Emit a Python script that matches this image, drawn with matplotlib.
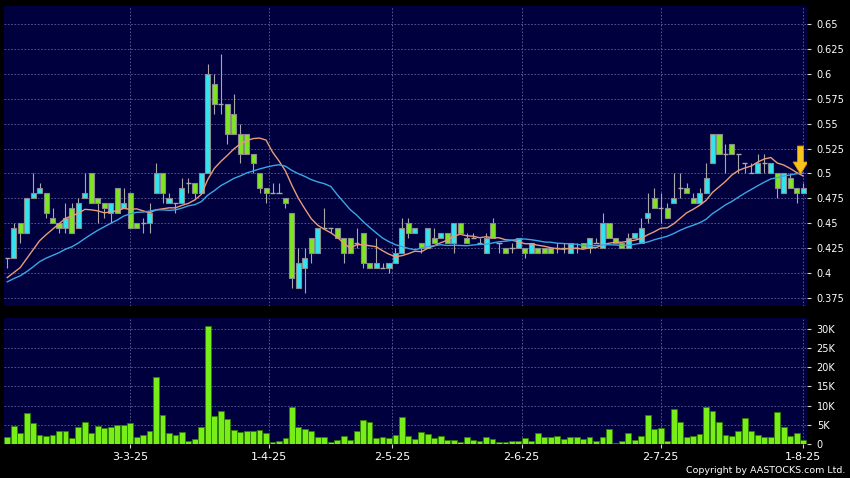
import numpy as np
import pandas as pd
import matplotlib
matplotlib.use('Agg')
from matplotlib import pyplot as plt

# daily bars, oldest first (Feb - Aug 2025)
opens = [0.415, 0.415, 0.45, 0.44, 0.475, 0.48, 0.48, 0.455, 0.45, 0.445,
         0.465, 0.445, 0.475, 0.50, 0.475, 0.47, 0.46, 0.485, 0.465, 0.48,
         0.45, 0.45, 0.45, 0.48, 0.50, 0.47, 0.47, 0.47, 0.49, 0.49,
         0.48, 0.50, 0.59, 0.57, 0.57, 0.56, 0.54, 0.54, 0.52, 0.50,
         0.485, 0.48, 0.48, 0.475, 0.46, 0.385, 0.405, 0.435, 0.42, 0.445,
         0.445, 0.445, 0.435, 0.435, 0.43, 0.44, 0.41, 0.405, 0.405, 0.405,
         0.41, 0.42, 0.45, 0.44, 0.43, 0.425, 0.435, 0.435, 0.44, 0.43,
         0.45, 0.435, 0.435, 0.43, 0.42, 0.45, 0.43, 0.425, 0.425, 0.425,
         0.425, 0.42, 0.425, 0.425, 0.425, 0.425, 0.425, 0.42, 0.425, 0.43,
         0.425, 0.43, 0.425, 0.45, 0.435, 0.43, 0.425, 0.435, 0.43, 0.455,
         0.475, 0.465, 0.465, 0.47, 0.485, 0.485, 0.475, 0.47, 0.48, 0.51,
         0.54, 0.52, 0.53, 0.52, 0.51, 0.50, 0.50, 0.51, 0.50, 0.50,
         0.48, 0.495, 0.485, 0.48]
highs = [0.415, 0.45, 0.45, 0.475, 0.50, 0.49, 0.48, 0.465, 0.45, 0.47,
         0.47, 0.475, 0.50, 0.50, 0.475, 0.47, 0.47, 0.485, 0.485, 0.48,
         0.45, 0.455, 0.47, 0.51, 0.50, 0.48, 0.47, 0.495, 0.495, 0.49,
         0.50, 0.61, 0.60, 0.62, 0.57, 0.58, 0.55, 0.54, 0.52, 0.50,
         0.485, 0.49, 0.49, 0.475, 0.46, 0.425, 0.425, 0.435, 0.445, 0.465,
         0.445, 0.445, 0.435, 0.435, 0.445, 0.44, 0.41, 0.435, 0.41, 0.41,
         0.425, 0.455, 0.455, 0.445, 0.43, 0.445, 0.445, 0.44, 0.44, 0.45,
         0.45, 0.44, 0.44, 0.435, 0.44, 0.455, 0.43, 0.425, 0.43, 0.435,
         0.425, 0.43, 0.425, 0.425, 0.425, 0.43, 0.43, 0.43, 0.43, 0.43,
         0.435, 0.435, 0.46, 0.45, 0.435, 0.43, 0.44, 0.44, 0.455, 0.48,
         0.485, 0.48, 0.47, 0.50, 0.50, 0.49, 0.48, 0.485, 0.51, 0.54,
         0.54, 0.53, 0.53, 0.52, 0.51, 0.51, 0.52, 0.52, 0.51, 0.50,
         0.50, 0.50, 0.485, 0.49]
lows = [0.405, 0.415, 0.43, 0.44, 0.475, 0.48, 0.455, 0.45, 0.44, 0.44,
        0.44, 0.445, 0.475, 0.47, 0.45, 0.455, 0.45, 0.46, 0.465, 0.445,
        0.445, 0.44, 0.44, 0.48, 0.47, 0.47, 0.46, 0.47, 0.48, 0.475,
        0.48, 0.50, 0.56, 0.56, 0.53, 0.54, 0.51, 0.52, 0.50, 0.48,
        0.47, 0.48, 0.48, 0.465, 0.385, 0.385, 0.38, 0.41, 0.42, 0.445,
        0.44, 0.435, 0.41, 0.42, 0.425, 0.405, 0.405, 0.405, 0.405, 0.40,
        0.41, 0.42, 0.435, 0.44, 0.42, 0.425, 0.43, 0.435, 0.43, 0.42,
        0.44, 0.43, 0.435, 0.43, 0.42, 0.435, 0.42, 0.42, 0.42, 0.425,
        0.415, 0.42, 0.42, 0.42, 0.42, 0.42, 0.42, 0.42, 0.42, 0.425,
        0.42, 0.43, 0.425, 0.435, 0.43, 0.425, 0.425, 0.435, 0.43, 0.45,
        0.465, 0.45, 0.455, 0.47, 0.475, 0.48, 0.47, 0.47, 0.48, 0.51,
        0.52, 0.50, 0.52, 0.50, 0.50, 0.50, 0.50, 0.50, 0.50, 0.475,
        0.48, 0.485, 0.47, 0.48]
closes = [0.415, 0.445, 0.44, 0.475, 0.48, 0.485, 0.46, 0.45, 0.445, 0.455,
          0.44, 0.47, 0.48, 0.47, 0.47, 0.465, 0.47, 0.46, 0.47, 0.445,
          0.445, 0.45, 0.46, 0.50, 0.48, 0.475, 0.47, 0.485, 0.49, 0.48,
          0.50, 0.60, 0.57, 0.57, 0.54, 0.54, 0.52, 0.52, 0.51, 0.485,
          0.48, 0.48, 0.48, 0.47, 0.395, 0.41, 0.415, 0.42, 0.445, 0.445,
          0.445, 0.435, 0.42, 0.42, 0.43, 0.41, 0.405, 0.41, 0.405, 0.41,
          0.42, 0.445, 0.44, 0.445, 0.425, 0.445, 0.43, 0.44, 0.43, 0.45,
          0.44, 0.43, 0.435, 0.43, 0.435, 0.435, 0.43, 0.42, 0.425, 0.435,
          0.42, 0.43, 0.42, 0.42, 0.42, 0.425, 0.425, 0.43, 0.425, 0.425,
          0.435, 0.43, 0.45, 0.435, 0.43, 0.425, 0.435, 0.44, 0.445, 0.46,
          0.465, 0.465, 0.455, 0.475, 0.485, 0.48, 0.47, 0.48, 0.495, 0.54,
          0.52, 0.52, 0.52, 0.52, 0.51, 0.50, 0.51, 0.51, 0.51, 0.485,
          0.50, 0.485, 0.48, 0.485]
# volume in thousands of shares
volumes = [1.9, 4.6, 2.95, 8.0, 5.6, 2.4, 2.0, 2.3, 3.3, 3.5,
           1.65, 4.3, 5.8, 2.95, 4.7, 4.2, 4.3, 4.9, 4.9, 5.6,
           1.9, 2.3, 3.3, 17.4, 7.6, 2.8, 2.4, 3.2, 0.9, 1.2,
           4.3, 30.8, 7.4, 8.7, 6.5, 3.7, 3.2, 3.4, 3.4, 3.6,
           2.8, 0.6, 0.8, 1.6, 9.7, 4.3, 4.0, 3.5, 1.7, 1.8,
           0.5, 1.0, 2.2, 1.1, 3.4, 6.2, 5.8, 1.6, 1.9, 1.6,
           2.3, 7.1, 2.0, 1.3, 3.2, 2.6, 1.65, 2.0, 1.0, 1.0,
           0.6, 1.9, 1.0, 0.8, 1.9, 1.4, 0.6, 0.6, 0.9, 0.9,
           1.65, 0.9, 2.9, 1.9, 1.7, 2.2, 1.3, 1.9, 1.7, 1.4,
           1.8, 0.7, 1.9, 3.9, 0.3, 0.8, 2.9, 1.1, 2.0, 7.6,
           4.0, 4.2, 0.8, 9.0, 5.8, 1.7, 2.2, 2.6, 9.7, 8.5,
           5.7, 2.3, 2.0, 3.4, 6.9, 3.5, 2.4, 1.9, 1.7, 8.4,
           4.3, 2.0, 2.8, 1.1]
# closes before the window, only used to warm up the moving averages
lead_closes = [0.38, 0.385, 0.39, 0.385, 0.38, 0.39, 0.395, 0.39, 0.385, 0.39,
               0.395, 0.39, 0.385, 0.39, 0.395, 0.40, 0.395, 0.39, 0.40]

tick_pos = [19, 40.5, 59.5, 79.5, 101, 123]
tick_labels = ['3-3-25', '1-4-25', '2-5-25', '2-6-25', '2-7-25', '1-8-25']
price_ticks = [0.375, 0.4, 0.425, 0.45, 0.475, 0.5, 0.525, 0.55, 0.575, 0.6, 0.625, 0.65]
vol_ticks = [0, 5, 10, 15, 20, 25, 30]

BG = '#00003e'
GRID = '#60609a'
CYAN = '#30e4f2'
GREEN = '#7ee61e'

x = np.arange(len(closes))
o, h, l, c = (np.array(a) for a in (opens, highs, lows, closes))
up = c > o
down = c < o
flat = c == o

full = pd.Series(lead_closes + closes)
sma10 = full.rolling(10).mean().iloc[len(lead_closes):].values
sma20 = full.rolling(20).mean().iloc[len(lead_closes):].values

fig = plt.figure(figsize=(8.5, 4.78), dpi=100, facecolor='black')
ax = fig.add_axes([0.0047, 0.3598, 0.9447, 0.6276], facecolor=BG)
ax2 = fig.add_axes([0.0047, 0.0711, 0.9447, 0.2636], facecolor=BG)

# price panel
ax.vlines(x, l, h, color='#a8a8a8', lw=0.8, zorder=2)
ax.bar(x[up], (c - o)[up], bottom=o[up], width=0.78, color=CYAN,
       edgecolor='#8c8c8c', lw=0.8, zorder=3)
ax.bar(x[down], (o - c)[down], bottom=c[down], width=0.78, color=GREEN,
       edgecolor='#8c8c8c', lw=0.8, zorder=3)
ax.hlines(c[flat], x[flat] - 0.4, x[flat] + 0.4, color='#a8a8a8', lw=1.0, zorder=3)
ax.plot(x, sma10, color='#e89c78', lw=1.0, zorder=4)
ax.plot(x, sma20, color='#3aa6e6', lw=1.0, zorder=4)

# marker arrow over the last bar
tip = sma10[-1] + 0.002
ax.arrow(x[-1] - 0.4, tip + 0.028, 0, -0.028, width=0.95, head_width=2.3,
         head_length=0.012, length_includes_head=True,
         fc='#f8c41c', ec='#e39200', lw=0.6, zorder=6)

ax.set_xlim(-0.5, 123.6)
ax.set_ylim(0.367, 0.668)
ax.set_yticks(price_ticks)
ax.set_yticklabels([f'{v:g}' for v in price_ticks])
ax.set_xticks(tick_pos)
ax.tick_params(axis='x', bottom=False, labelbottom=False)
ax.yaxis.tick_right()
ax.tick_params(axis='y', colors='#d0d0d0', labelcolor='white', labelsize=7,
               length=3, width=0.8, pad=4)
ax.grid(True, color=GRID, lw=0.6, linestyle=(0, (2, 2)))
ax.set_axisbelow(True)
for s in ax.spines.values():
    s.set_visible(False)

# volume panel
ax2.bar(x, np.array(volumes) * 1000, width=0.9, color='#78ee18',
        edgecolor='#2f7d00', lw=0.6, zorder=3)
ax2.set_xlim(-0.5, 123.6)
ax2.set_ylim(0, 32800)
ax2.set_yticks([v * 1000 for v in vol_ticks])
ax2.set_yticklabels(['0' if v == 0 else f'{v}K' for v in vol_ticks])
ax2.set_xticks(tick_pos)
ax2.set_xticklabels(tick_labels)
ax2.yaxis.tick_right()
ax2.tick_params(axis='y', colors='#d0d0d0', labelcolor='white', labelsize=7,
                length=3, width=0.8, pad=4)
ax2.tick_params(axis='x', colors='#d0d0d0', labelcolor='white', labelsize=8,
                length=3, width=0.8, pad=3)
ax2.grid(True, color=GRID, lw=0.6, linestyle=(0, (2, 2)))
ax2.set_axisbelow(True)
for s in ax2.spines.values():
    s.set_visible(False)

fig.text(0.995, 0.006, 'Copyright by AASTOCKS.com Ltd.', ha='right', va='bottom',
         color='white', fontsize=6.8)

fig.savefig('out.png', dpi=100, facecolor='black')
